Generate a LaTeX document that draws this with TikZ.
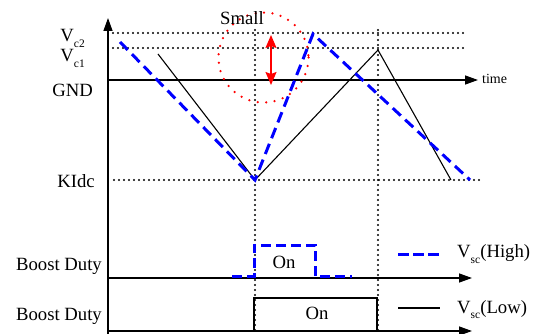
\documentclass[tikz,border=0pt]{standalone}
\usepackage{fontspec}
\setmainfont{Liberation Serif}
\usetikzlibrary{arrows.meta}
\begin{document}
\begin{tikzpicture}[x=1pt,y=-1pt,
  lbl/.style={inner sep=0pt,font=\fontsize{18.7}{20}\selectfont},
  axisline/.style={line width=1.3pt},
  axisarrow/.style={axisline,-{Triangle[length=13pt,width=9pt]}},
  dotline/.style={line width=2.1pt,line cap=round,dash pattern=on 0pt off 5pt},
  tri/.style={line width=1.1pt},
  bluedash/.style={line width=3pt,blue,dash pattern=on 11pt off 6pt},
  reddot/.style={red,line width=2.5pt,line cap=round,dash pattern=on 0pt off 8.5pt}
]
\useasboundingbox (0,0) rectangle (544,334);
\newcommand{\sub}[1]{\raisebox{-0.28em}{\fontsize{11.5}{12}\selectfont #1}}

% axes
\coordinate (yb) at (108,334);
\coordinate (yt) at (108,18);
\coordinate (t0) at (108,80);
\coordinate (t1) at (478,80);
\coordinate (b1s) at (107,278);
\coordinate (b1e) at (472,278);
\coordinate (b2s) at (107,331);
\coordinate (b2e) at (472,331);
\draw[axisarrow] (yb) -- (yt);
\draw[axisarrow] (t0) -- (t1);
\draw[axisarrow] (b1s) -- (b1e);
\draw[axisarrow] (b2s) -- (b2e);

% dotted guides
\coordinate (c2a) at (113,33); \coordinate (c2b) at (467,33);
\coordinate (c1a) at (113,48); \coordinate (c1b) at (467,48);
\coordinate (ka) at (114,180); \coordinate (kb) at (480,180);
\coordinate (v1a) at (255,30); \coordinate (v1b) at (255,334);
\coordinate (v2a) at (378,30); \coordinate (v2b) at (378,334);
\draw[dotline] (c2a) -- (c2b);
\draw[dotline] (c1a) -- (c1b);
\draw[dotline] (ka) -- (kb);
\draw[dotline] (v1a) -- (v1b);
\draw[dotline] (v2a) -- (v2b);

% black triangle wave
\coordinate (k0) at (158,54);
\coordinate (k1) at (255,180);
\coordinate (k2) at (378,50);
\coordinate (k3) at (451,180);
\draw[tri] (k0) -- (k1) -- (k2) -- (k3);

% blue dashed wave
\coordinate (h0) at (120,42);
\coordinate (h1) at (255,180);
\coordinate (h2) at (313,34);
\coordinate (h3) at (470,180);
\draw[bluedash] (h0) -- (h1) -- (h2) -- (h3);

% red circle and arrow
\coordinate (rc) at (263.5,57.5);
\draw[reddot] (rc) circle (45);
\coordinate (ra) at (271,35);
\coordinate (rb) at (271,85);
\draw[red,line width=1.5pt,{Stealth[length=13pt,width=11pt,inset=2pt]}-{Stealth[length=13pt,width=11pt,inset=2pt]}] (ra) -- (rb);

% duty waveforms
\coordinate (d0) at (232,276); \coordinate (d1) at (254,276);
\coordinate (d2) at (254,245); \coordinate (d3) at (315,245);
\coordinate (d4) at (315,276); \coordinate (d5) at (352,276);
\draw[bluedash,line width=3pt,dash pattern=on 10pt off 5pt] (d0) -- (d1) -- (d2) -- (d3) -- (d4) -- (d5);
\coordinate (e0) at (254,331); \coordinate (e1) at (254,298);
\coordinate (e2) at (377,298); \coordinate (e3) at (377,331);
\draw[tri] (e0) -- (e1) -- (e2) -- (e3);

% legend
\coordinate (lh0) at (398,254); \coordinate (lh1) at (440,254);
\draw[bluedash,dash pattern=on 11pt off 4pt] (lh0) -- (lh1);
\coordinate (ll0) at (398,308); \coordinate (ll1) at (440,308);
\draw[tri] (ll0) -- (ll1);

% labels
\node[lbl,anchor=base east] (lvc2) at (85,42) {V\sub{c2}};
\node[lbl,anchor=base east] (lvc1) at (85,62) {V\sub{c1}};
\node[lbl,anchor=base east] (lgnd) at (93,97) {GND};
\node[lbl,anchor=base east] (lkidc) at (95,188) {KIdc};
\node[lbl,anchor=base east] (lbd1) at (102,270) {Boost Duty};
\node[lbl,anchor=base east] (lbd2) at (102,320) {Boost Duty};
\node[lbl,anchor=base west] (lsmall) at (220,25) {Small};
\node[inner sep=0pt,anchor=base west,font=\fontsize{14}{15}\selectfont] (ltime) at (482,84) {time};
\node[lbl,anchor=base] (lon1) at (284,268) {On};
\node[lbl,anchor=base] (lon2) at (317,319) {On};
\node[lbl,anchor=base west] (lhigh) at (457,258) {V\sub{sc}(High)};
\node[lbl,anchor=base west] (llow) at (457,313) {V\sub{sc}(Low)};
\end{tikzpicture}
\end{document}
